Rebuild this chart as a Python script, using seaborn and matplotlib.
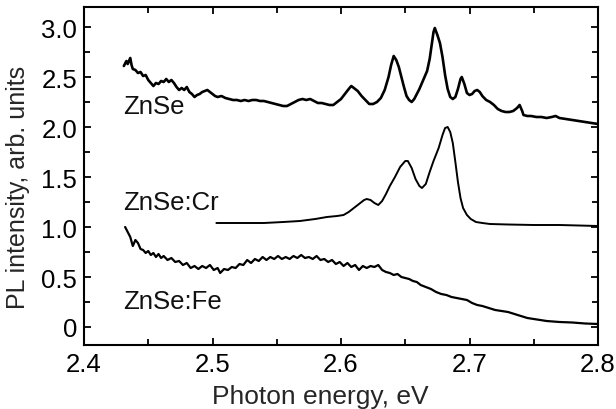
import numpy as np
import pandas as pd
import matplotlib
matplotlib.use("Agg")
import matplotlib.pyplot as plt
import seaborn as sns
from matplotlib.ticker import MultipleLocator, FixedLocator, FixedFormatter

# ---- data ----
znse_e = [2.431, 2.433, 2.434, 2.436, 2.437, 2.438, 2.440, 2.442, 2.444, 2.446, 2.448, 2.450,
          2.452, 2.454, 2.456, 2.458, 2.460, 2.462, 2.464, 2.466, 2.468, 2.470, 2.472, 2.474,
          2.476, 2.478, 2.480, 2.482, 2.484, 2.486, 2.488, 2.490, 2.492, 2.494, 2.496, 2.498,
          2.500, 2.502, 2.504, 2.507, 2.510, 2.513, 2.516, 2.519, 2.522, 2.525, 2.528, 2.531,
          2.534, 2.537, 2.540, 2.543, 2.546, 2.549, 2.552, 2.555, 2.558, 2.561, 2.564, 2.567,
          2.570, 2.573, 2.576, 2.579, 2.582, 2.585, 2.588, 2.591, 2.594, 2.597, 2.600, 2.603,
          2.606, 2.608, 2.610, 2.613, 2.616, 2.619, 2.622, 2.625, 2.628, 2.631, 2.634, 2.637,
          2.639, 2.641, 2.643, 2.645, 2.647, 2.649, 2.651, 2.653, 2.655, 2.657, 2.659, 2.661,
          2.663, 2.665, 2.667, 2.669, 2.671, 2.672, 2.673, 2.675, 2.677, 2.679, 2.681, 2.683,
          2.685, 2.687, 2.689, 2.691, 2.693, 2.694, 2.696, 2.698, 2.700, 2.702, 2.704, 2.706,
          2.708, 2.710, 2.713, 2.716, 2.719, 2.722, 2.725, 2.728, 2.731, 2.734, 2.737, 2.739,
          2.741, 2.742, 2.745, 2.748, 2.752, 2.756, 2.760, 2.764, 2.767, 2.770, 2.775, 2.780,
          2.785, 2.790, 2.795, 2.800]
znse_i = [2.61, 2.66, 2.63, 2.69, 2.62, 2.58, 2.57, 2.54, 2.55, 2.51, 2.52, 2.47,
          2.44, 2.41, 2.44, 2.43, 2.46, 2.45, 2.48, 2.45, 2.47, 2.44, 2.40, 2.37,
          2.39, 2.37, 2.40, 2.35, 2.33, 2.30, 2.32, 2.33, 2.35, 2.36, 2.37, 2.35,
          2.33, 2.31, 2.30, 2.31, 2.29, 2.28, 2.27, 2.27, 2.26, 2.27, 2.26, 2.27,
          2.27, 2.26, 2.26, 2.25, 2.24, 2.23, 2.22, 2.21, 2.21, 2.23, 2.25, 2.27,
          2.28, 2.27, 2.28, 2.26, 2.24, 2.24, 2.23, 2.22, 2.22, 2.25, 2.28, 2.33,
          2.38, 2.41, 2.39, 2.36, 2.31, 2.27, 2.23, 2.23, 2.25, 2.29, 2.37, 2.50,
          2.62, 2.71, 2.67, 2.60, 2.50, 2.40, 2.31, 2.27, 2.25, 2.28, 2.33, 2.38,
          2.44, 2.50, 2.56, 2.68, 2.86, 2.95, 2.99, 2.92, 2.84, 2.70, 2.52, 2.38,
          2.30, 2.28, 2.30, 2.38, 2.48, 2.50, 2.43, 2.34, 2.32, 2.33, 2.36, 2.37,
          2.35, 2.31, 2.27, 2.25, 2.22, 2.18, 2.16, 2.15, 2.15, 2.16, 2.19, 2.22,
          2.16, 2.12, 2.11, 2.11, 2.10, 2.10, 2.09, 2.10, 2.11, 2.09, 2.08, 2.07,
          2.06, 2.05, 2.04, 2.03]

cr_e = [2.503, 2.520, 2.540, 2.555, 2.568, 2.580, 2.589, 2.597, 2.602, 2.606, 2.610, 2.614,
        2.618, 2.620, 2.623, 2.626, 2.629, 2.632, 2.635, 2.638, 2.642, 2.646, 2.650, 2.652,
        2.655, 2.658, 2.661, 2.663, 2.666, 2.669, 2.672, 2.676, 2.679, 2.681, 2.683, 2.685,
        2.687, 2.689, 2.691, 2.693, 2.695, 2.698, 2.701, 2.705, 2.710, 2.716, 2.730, 2.750,
        2.770, 2.800]
cr_i = [1.04, 1.04, 1.04, 1.05, 1.06, 1.08, 1.10, 1.11, 1.12, 1.15, 1.19, 1.23,
        1.27, 1.28, 1.27, 1.24, 1.22, 1.26, 1.33, 1.41, 1.50, 1.60, 1.66, 1.66,
        1.59, 1.48, 1.41, 1.39, 1.43, 1.55, 1.66, 1.79, 1.92, 1.99, 2.00, 1.95,
        1.84, 1.65, 1.45, 1.29, 1.19, 1.12, 1.08, 1.05, 1.04, 1.03, 1.025, 1.02,
        1.02, 1.01]

fe_e = [2.432, 2.434, 2.436, 2.438, 2.440, 2.442, 2.444, 2.446, 2.448, 2.450, 2.452, 2.454,
        2.456, 2.458, 2.460, 2.462, 2.465, 2.468, 2.471, 2.474, 2.477, 2.480, 2.483, 2.486,
        2.489, 2.492, 2.495, 2.498, 2.501, 2.504, 2.506, 2.509, 2.512, 2.515, 2.518, 2.521,
        2.524, 2.527, 2.530, 2.533, 2.536, 2.539, 2.542, 2.545, 2.548, 2.551, 2.554, 2.557,
        2.560, 2.563, 2.566, 2.569, 2.572, 2.575, 2.578, 2.581, 2.584, 2.587, 2.590, 2.593,
        2.596, 2.599, 2.602, 2.605, 2.608, 2.611, 2.614, 2.617, 2.620, 2.623, 2.626, 2.629,
        2.632, 2.635, 2.638, 2.641, 2.644, 2.647, 2.650, 2.653, 2.656, 2.659, 2.662, 2.666,
        2.670, 2.674, 2.678, 2.682, 2.686, 2.690, 2.694, 2.698, 2.702, 2.706, 2.710, 2.715,
        2.720, 2.725, 2.730, 2.735, 2.740, 2.745, 2.750, 2.755, 2.760, 2.770, 2.780, 2.790,
        2.800]
fe_i = [1.00, 0.95, 0.90, 0.81, 0.87, 0.84, 0.78, 0.77, 0.74, 0.76, 0.72, 0.74,
        0.70, 0.73, 0.69, 0.71, 0.67, 0.69, 0.65, 0.66, 0.62, 0.64, 0.59, 0.61,
        0.58, 0.61, 0.59, 0.62, 0.57, 0.59, 0.54, 0.58, 0.57, 0.60, 0.59, 0.63,
        0.62, 0.67, 0.64, 0.68, 0.66, 0.70, 0.67, 0.70, 0.68, 0.71, 0.68, 0.70,
        0.68, 0.71, 0.69, 0.72, 0.69, 0.70, 0.68, 0.71, 0.67, 0.68, 0.65, 0.67,
        0.63, 0.65, 0.61, 0.64, 0.60, 0.62, 0.57, 0.61, 0.59, 0.61, 0.60, 0.62,
        0.57, 0.55, 0.54, 0.52, 0.53, 0.50, 0.49, 0.48, 0.46, 0.45, 0.42, 0.40,
        0.38, 0.35, 0.33, 0.32, 0.30, 0.29, 0.28, 0.27, 0.24, 0.22, 0.21, 0.19,
        0.17, 0.16, 0.15, 0.13, 0.11, 0.09, 0.08, 0.07, 0.06, 0.05, 0.045, 0.035,
        0.03]

labels = ["ZnSe", "ZnSe:Cr", "ZnSe:Fe"]
label_pos = [(2.4305, 2.21), (2.4305, 1.25), (2.4305, 0.26)]
y_ticks = [0, 0.5, 1.0, 1.5, 2.0, 2.5, 3.0]
y_ticklabels = ["0", "0.5", "1.0", "1.5", "2.0", "2.5", "3.0"]
x_ticks = [2.4, 2.5, 2.6, 2.7, 2.8]
x_ticklabels = ["2.4", "2.5", "2.6", "2.7", "2.8"]

# ---- style ----
sns.set_style("ticks")
plt.rcParams["font.family"] = ["Liberation Sans", "DejaVu Sans"]

fig = plt.figure(figsize=(6.16, 4.10), dpi=100)
ax = fig.add_axes([84 / 616, 64 / 410, (598 - 84) / 616, (346 - 8) / 410])

sns.lineplot(x=znse_e, y=znse_i, ax=ax, color="black", lw=1.9, sort=False, estimator=None)
sns.lineplot(x=cr_e, y=cr_i, ax=ax, color="black", lw=1.4, sort=False, estimator=None)
sns.lineplot(x=fe_e, y=fe_i, ax=ax, color="black", lw=1.6, sort=False, estimator=None)

for txt, (lx, ly) in zip(labels, label_pos):
    ax.text(lx, ly, txt, fontsize=18.5, ha="left", va="center", color="#111111")

ax.set_xlim(2.4, 2.8)
ax.set_ylim(-0.18, 3.2)
ax.xaxis.set_major_locator(FixedLocator(x_ticks))
ax.xaxis.set_major_formatter(FixedFormatter(x_ticklabels))
ax.xaxis.set_minor_locator(MultipleLocator(0.05))
ax.yaxis.set_major_locator(FixedLocator(y_ticks))
ax.yaxis.set_major_formatter(FixedFormatter(y_ticklabels))
ax.yaxis.set_minor_locator(MultipleLocator(0.25))

ax.tick_params(which="both", direction="in", top=True, right=True, width=1.3,
               labelsize=18.5, colors="black", pad=5)
ax.tick_params(which="major", length=5)
ax.tick_params(which="minor", length=4)
for sp in ax.spines.values():
    sp.set_linewidth(1.5)
    sp.set_color("black")

ax.set_xlabel("Photon energy, eV", fontsize=19)
ax.set_ylabel("PL intensity, arb. units", fontsize=18)
ax.xaxis.set_label_coords(0.46, -0.115)
ax.yaxis.set_label_coords(-0.106, 0.47)

fig.savefig("out.png", dpi=100)
